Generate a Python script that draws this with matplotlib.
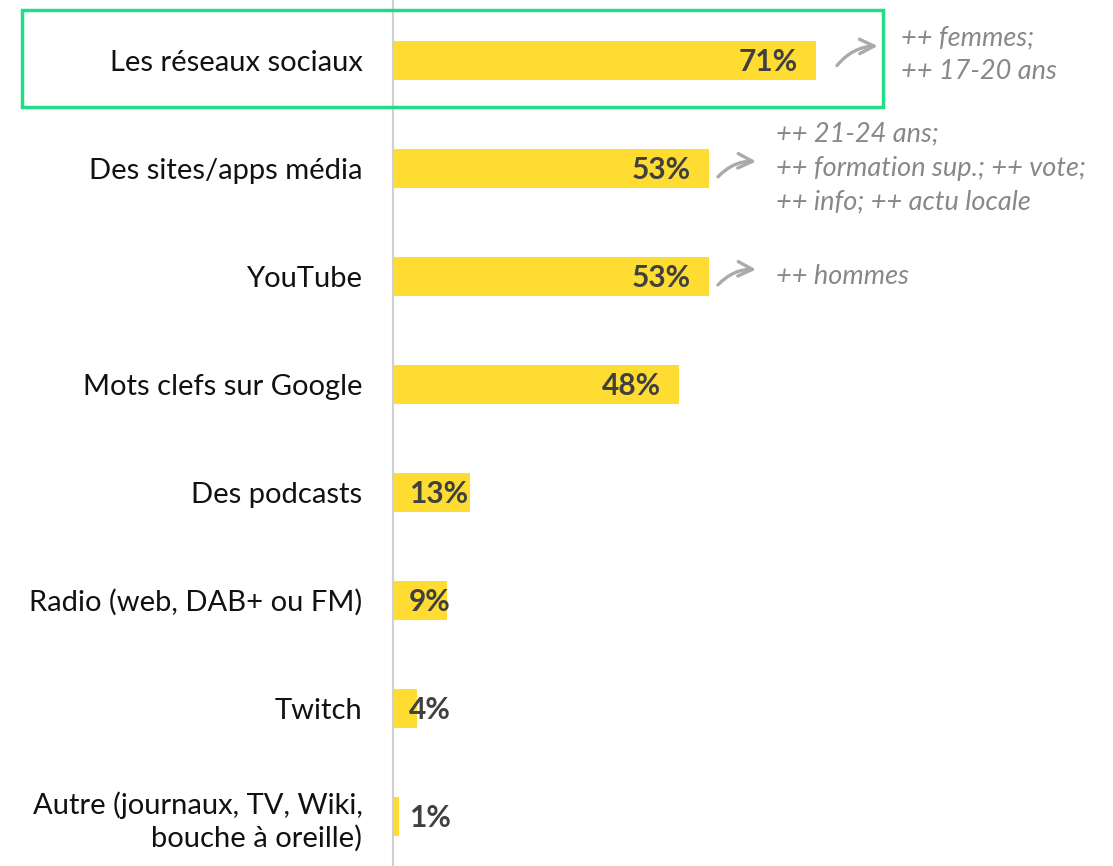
import matplotlib.pyplot as plt
from matplotlib.patches import Rectangle

# Data
categories = [
    "Les réseaux sociaux",
    "Des sites/apps média",
    "YouTube",
    "Mots clefs sur Google",
    "Des podcasts",
    "Radio (web, DAB+ ou FM)",
    "Twitch",
    "Autre (journaux, TV, Wiki,\nbouche à oreille)",
]
values = [71, 53, 53, 48, 13, 9, 4, 1]
notes = {
    0: "++ femmes;\n++ 17-20 ans",
    1: "++ 21-24 ans;\n++ formation sup.; ++ vote;\n++ info; ++ actu locale",
    2: "++ hommes",
}

plt.rcParams["font.family"] = ["Lato", "DejaVu Sans"]

fig = plt.figure(figsize=(11.13, 8.66), dpi=100)
ax = fig.add_axes([393 / 1113, 0, 720 / 1113, 1])

y = list(range(len(categories)))
ax.barh(y, values, height=0.36, color="#FFDC32", zorder=2)

ax.set_xlim(0, 720 / 5.96)
ax.set_ylim(7.46, -0.556)

ax.set_yticks(y)
ax.set_yticklabels(categories, fontsize=21, color="#111111", linespacing=1.25)
ax.tick_params(axis="y", length=0, pad=22)
ax.set_xticks([])
for s in ["top", "right", "bottom"]:
    ax.spines[s].set_visible(False)
ax.spines["left"].set_color("#d0d0d0")
ax.spines["left"].set_linewidth(1.5)

# value labels
for i, v in enumerate(values):
    if v > 20:
        ax.annotate(f"{v}%", (v, i), xytext=(-13, -1.5), textcoords="offset points",
                    ha="right", va="center", fontsize=21.5, fontweight="bold",
                    color="#404040", zorder=3)
    else:
        ax.annotate(f"{v}%", (0, i), xytext=(11.5, -1.5), textcoords="offset points",
                    ha="left", va="center", fontsize=21.5, fontweight="bold",
                    color="#404040", zorder=3)

# notes with curved arrows
for i, txt in notes.items():
    v = values[i]
    if i == 0:
        start, end, tx = (v + 3.2, i + 0.07), (v + 10.8, i - 0.13), v + 14.2
        ty = i - 0.05
    else:
        start, end, tx = (v + 1.2, i + 0.1), (v + 8.4, i - 0.06), v + 11.3
        ty = i
    ax.annotate("", xy=end, xytext=start,
                arrowprops=dict(arrowstyle="->", color="#aaaaaa", lw=2.4,
                                connectionstyle="arc3,rad=-0.25",
                                mutation_scale=26))
    ax.text(tx, ty, txt, ha="left", va="center", fontsize=19.5, style="italic",
            color="#888888", linespacing=1.45)

# highlight box around first row
fig.patches.append(Rectangle((22 / 1113, 1 - 107 / 866), (883 - 22) / 1113,
                             (107 - 10) / 866, transform=fig.transFigure,
                             fill=False, edgecolor="#22DD88", lw=2.5))

fig.savefig("out.png", dpi=100)
